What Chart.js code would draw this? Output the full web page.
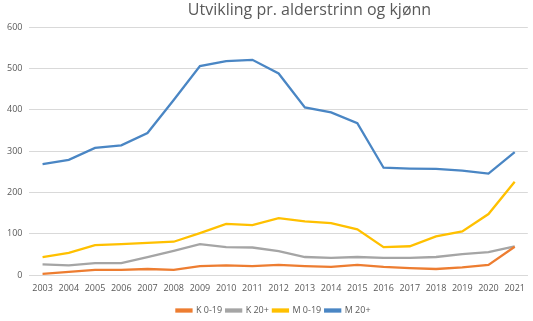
<!DOCTYPE html>
<html><head><meta charset="utf-8">
<script src="https://cdn.jsdelivr.net/npm/chart.js@4"></script>
<style>html,body{margin:0;padding:0;background:#fff}#wrap{width:533px;height:321px}</style>
</head><body><div id="wrap"><canvas id="c"></canvas></div>
<script>
const years = ["2003","2004","2005","2006","2007","2008","2009","2010","2011","2012","2013","2014","2015","2016","2017","2018","2019","2020","2021"];
const k019 = [3,8,13,13,15,13,22,24,22,25,22,20,25,20,17,15,19,25,69];
const k20 = [26,24,29,29,44,59,75,68,67,58,44,42,44,42,42,44,51,56,70];
const m019 = [44,54,73,75,78,81,102,124,121,138,130,126,111,68,70,94,106,148,226];
const m20 = [269,279,308,314,344,424,506,518,521,488,406,394,368,260,258,257,253,246,298];
const seriesNames = ["K 0-19","K 20+","M 0-19","M 20+"];
const colors = ["#ED7D31","#A5A5A5","#FFC000","#4A86C4"];
const vals = [k019,k20,m019,m20];
const shiftTitle = {
  id:'shiftTitle',
  afterLayout(chart){
    const t = chart.titleBlock;
    if (t){ t.left += 43; t.right += 43; }
    const l = chart.legend;
    if (l){ const d = 7; l.left += d; l.right += d; if (l.legendHitBoxes) l.legendHitBoxes.forEach(b=>{b.left+=d;}); }
  }
};
new Chart(document.getElementById('c'), {
  type:'line',
  data:{labels:years, datasets: vals.map((v,i)=>({label:seriesNames[i], data:v, borderColor:colors[i], backgroundColor:colors[i], borderWidth:2.3, pointRadius:0, tension:0}))},
  options:{
    responsive:true, maintainAspectRatio:false, animation:false,
    layout:{padding:{left:0,right:0,top:0,bottom:-4}},
    plugins:{
      title:{display:true,text:"Utvikling pr. alderstrinn og kjønn",color:"#595959",font:{family:"Open Sans",size:16,weight:'normal'},padding:{top:1,bottom:7}},
      legend:{position:'bottom',labels:{boxWidth:15,boxHeight:2,color:"#595959",font:{family:"Open Sans",size:9},padding:4}},
      tooltip:{enabled:false}
    },
    scales:{
      x:{offset:true,grid:{display:false,drawTicks:false},border:{color:"#d9d9d9"},ticks:{color:"#595959",font:{family:"Open Sans",size:9},maxRotation:0,autoSkip:false,padding:8}},
      y:{min:0,max:600,grid:{color:"#d9d9d9",drawTicks:false},border:{display:false},ticks:{stepSize:100,color:"#595959",font:{family:"Open Sans",size:9},padding:7}}
    }
  },
  plugins:[shiftTitle]
});
</script></body></html>
